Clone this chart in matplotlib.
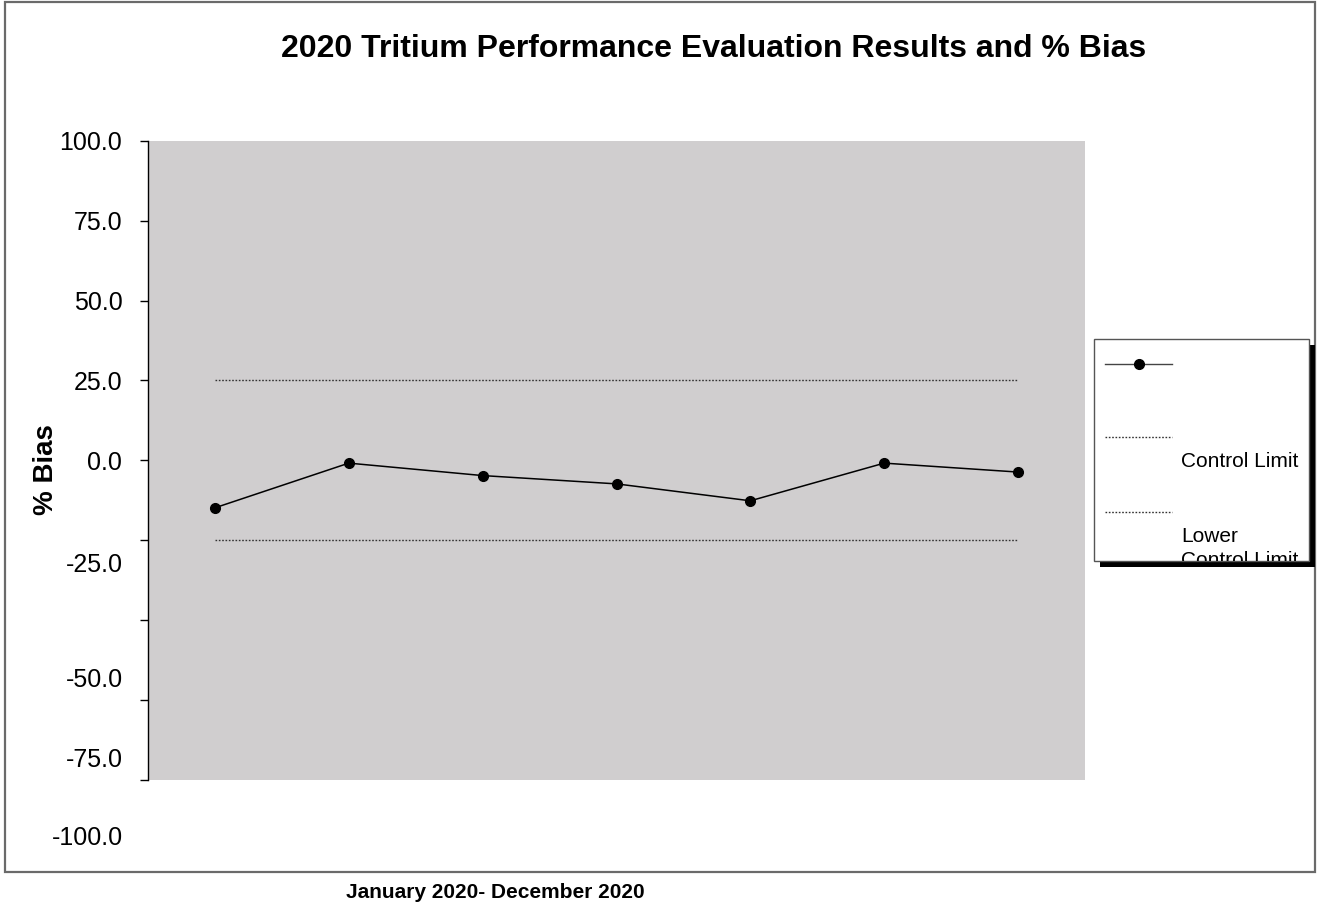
import matplotlib
matplotlib.use("Agg")
import matplotlib.pyplot as plt
from matplotlib.patches import Rectangle
from matplotlib.lines import Line2D
from matplotlib import font_manager

# ---- data -------------------------------------------------------------
sample_no = [1, 2, 3, 4, 5, 6, 7]
pct_bias = [-14.9, -0.9, -4.8, -7.4, -12.7, -0.9, -3.7]
upper_limit = [25.0] * 7
lower_limit = [-25.0] * 7
ytick_values = [100, 75, 50, 25, 0, -25, -50, -75, -100]
upper_tick_labels = ["100.0", "75.0", "50.0", "25.0", "0.0"]
lower_tick_labels = ["-25.0", "-50.0", "-75.0", "-100.0"]
lower_label_pos = [-32.8, -68.9, -93.9, -118.3]

title = "2020 Tritium Performance Evaluation Results and % Bias"
ylabel = "% Bias"
period = "January 2020- December 2020"

# ---- fonts ------------------------------------------------------------
names = {f.name for f in font_manager.fontManager.ttflist}
base = "Liberation Sans" if "Liberation Sans" in names else "DejaVu Sans"
narrow = "Liberation Sans Narrow" if "Liberation Sans Narrow" in names else base
plt.rcParams["font.family"] = [base, "DejaVu Sans"]

W, H = 1320, 911
fig = plt.figure(figsize=(W / 100, H / 100), dpi=100)


def fx(px):
    return px / W


def fy(py):
    return 1 - py / H


# outer chart border
fig.patches.append(Rectangle((fx(5), fy(871.5)), fx(1315) - fx(5), fy(2) - fy(871.5),
                             transform=fig.transFigure, fill=False,
                             edgecolor="#6a6a6a", lw=1.6, zorder=0))

# plot area
left, right, top, bottom = 148, 1085, 141, 779.5
ax = fig.add_axes([fx(left), fy(bottom), fx(right) - fx(left), fy(top) - fy(bottom)])
ax.set_facecolor("#D0CECF")
for s in ("top", "right", "bottom"):
    ax.spines[s].set_visible(False)
ax.spines["left"].set_color("black")
ax.spines["left"].set_linewidth(1.0)

ax.set_xlim(0.5, 7.5)
ax.set_ylim(-100, 100)
ax.set_xticks([])
ax.set_yticks(ytick_values)
ax.set_yticklabels(upper_tick_labels + [""] * len(lower_tick_labels))
ax.tick_params(axis="y", direction="out", length=5.5, width=1.0, pad=13,
               labelsize=18, colors="black")

# lower axis labels
for v, lab in zip(lower_label_pos, lower_tick_labels):
    ax.text(-0.0267, v, lab, transform=ax.get_yaxis_transform(),
            ha="right", va="center", fontsize=18, clip_on=False)

# control limits and results
ax.plot(sample_no, upper_limit, color="#333333", lw=1.0, linestyle=(0, (1.2, 1.2)))
ax.plot(sample_no, lower_limit, color="#333333", lw=1.0, linestyle=(0, (1.2, 1.2)))
ax.plot(sample_no, pct_bias, color="black", lw=1.1, marker="o", markersize=7,
        markerfacecolor="black", markeredgecolor="black", clip_on=False)

# titles
fig.text(fx(714), fy(49), title, ha="center", va="center", fontsize=23,
         fontweight="bold")
fig.text(fx(46), fy(470), ylabel, ha="center", va="center", rotation=90,
         fontsize=20, fontweight="bold")
fig.text(fx(495), fy(892), period, ha="center", va="center", fontsize=15,
         fontweight="bold", family=[narrow, "DejaVu Sans"])

# legend
lx0, ly0, lx1, ly1 = 1094, 339, 1309, 561
fig.patches.append(Rectangle((fx(lx0 + 6), fy(ly1 + 6)), fx(lx1) - fx(lx0), fy(ly0) - fy(ly1),
                             transform=fig.transFigure, facecolor="black",
                             edgecolor="none", zorder=3))
box = Rectangle((fx(lx0), fy(ly1)), fx(lx1) - fx(lx0), fy(ly0) - fy(ly1),
                transform=fig.transFigure, facecolor="white",
                edgecolor="#555555", lw=1.0, zorder=4)
fig.patches.append(box)

fig.lines.append(Line2D([fx(1105), fx(1172)], [fy(363.7)] * 2, transform=fig.transFigure,
                        color="#444444", lw=1.0, zorder=5))
fig.lines.append(Line2D([fx(1138.5)], [fy(363.7)], transform=fig.transFigure,
                        marker="o", markersize=7, color="black", zorder=6))
for yy in (437.3, 511.7):
    fig.lines.append(Line2D([fx(1105), fx(1172)], [fy(yy)] * 2, transform=fig.transFigure,
                            color="#333333", lw=1.0, linestyle=(0, (1.2, 1.2)), zorder=5))

legend_texts = [("Control Limit", 461.5), ("Lower", 536), ("Control Limit", 560.5)]
for txt, yy in legend_texts:
    t = fig.text(fx(1181), fy(yy), txt, ha="left", va="center", fontsize=15, zorder=5)
    t.set_clip_path(box)

fig.savefig("out.png", dpi=100)
